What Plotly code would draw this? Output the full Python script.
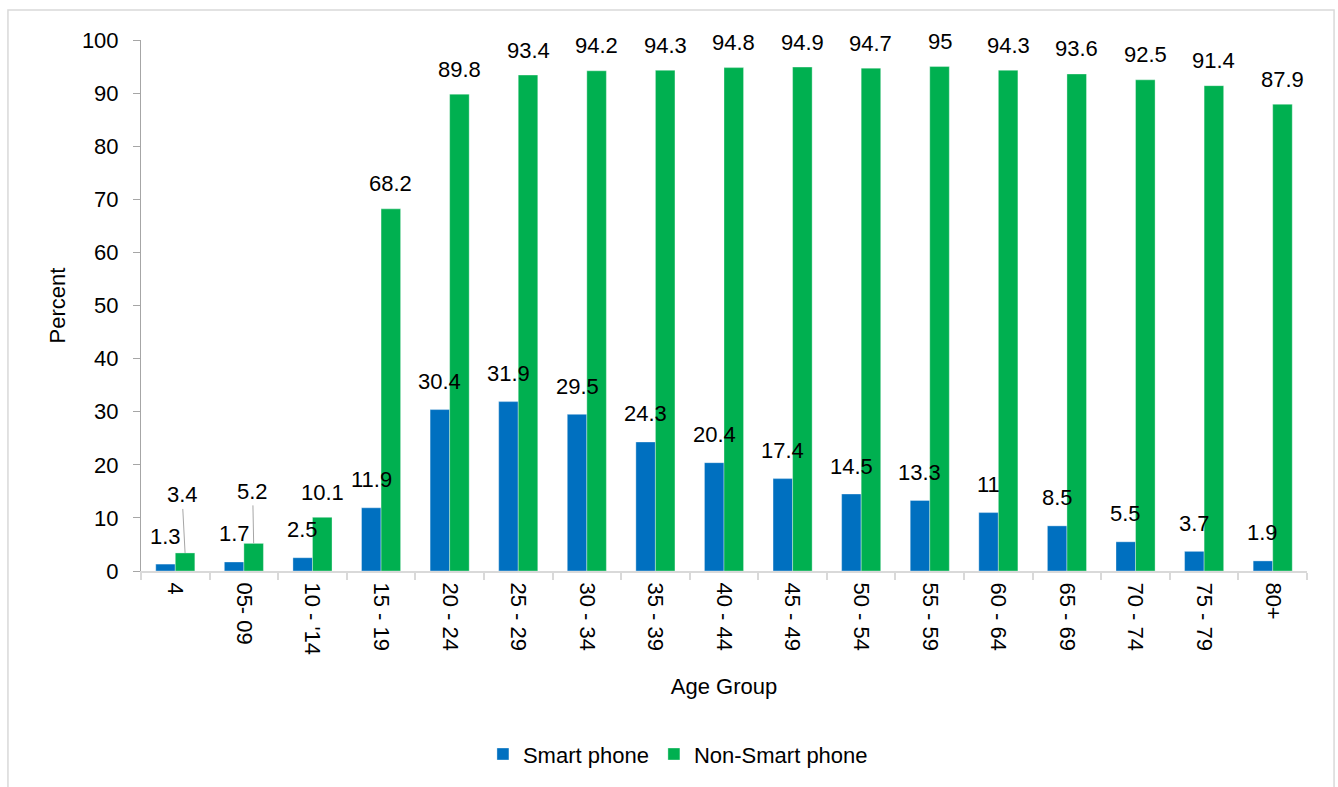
import plotly.graph_objects as go

# Age groups and share of each phone type (percent)
age_groups = ["4", "05- 09", "10 - '14", "15 - 19", "20 - 24", "25 - 29", "30 - 34",
              "35 - 39", "40 - 44", "45 - 49", "50 - 54", "55 - 59", "60 - 64",
              "65 - 69", "70 - 74", "75 - 79", "80+"]
smart_phone = [1.3, 1.7, 2.5, 11.9, 30.4, 31.9, 29.5, 24.3, 20.4, 17.4, 14.5,
               13.3, 11, 8.5, 5.5, 3.7, 1.9]
non_smart_phone = [3.4, 5.2, 10.1, 68.2, 89.8, 93.4, 94.2, 94.3, 94.8, 94.9,
                   94.7, 95, 94.3, 93.6, 92.5, 91.4, 87.9]
y_ticks = [0, 10, 20, 30, 40, 50, 60, 70, 80, 90, 100]

FONT = "Liberation Sans Narrow, Arial Narrow, Liberation Sans, Arial, sans-serif"
FS = 22
BLUE = "#0070C0"
GREEN = "#00B050"
BAR_W = 0.285

fig = go.Figure()
fig.add_trace(go.Bar(
    name="Smart phone", x=age_groups, y=smart_phone,
    width=BAR_W, offset=-BAR_W,
    marker=dict(color=BLUE, line=dict(color="rgba(255,255,255,0.35)", width=1)),
))
fig.add_trace(go.Bar(
    name="Non-Smart phone", x=age_groups, y=non_smart_phone,
    width=BAR_W, offset=0,
    marker=dict(color=GREEN, line=dict(color="rgba(255,255,255,0.35)", width=1)),
))

# Value labels above each bar; the two smallest green labels are lifted
# and tied back to their bars with a thin leader line.
leader = {0: (-3, -58), 1: (-1, -52)}
for i, (s, n) in enumerate(zip(smart_phone, non_smart_phone)):
    fig.add_annotation(x=i - BAR_W / 2, y=s, text=f"{s:g}", showarrow=False,
                       yanchor="middle", yshift=28,
                       font=dict(family=FONT, size=FS, color="#000000"))
    if i in leader:
        ax, ay = leader[i]
        fig.add_annotation(x=i + BAR_W / 2, y=n, text=f"{n:g}", showarrow=True,
                           arrowhead=0, arrowwidth=1, arrowcolor="#a6a6a6",
                           ax=ax, ay=ay, standoff=0,
                           font=dict(family=FONT, size=FS, color="#000000"))
    else:
        fig.add_annotation(x=i + BAR_W / 2, y=n, text=f"{n:g}", showarrow=False,
                           yanchor="middle", yshift=25,
                           font=dict(family=FONT, size=FS, color="#000000"))

# Light frame around the whole chart
fig.add_shape(type="rect", xref="paper", yref="paper",
              x0=-0.1141, x1=1.0232, y0=-0.45, y1=1.0565,
              line=dict(color="#d9d9d9", width=1.5), fillcolor="rgba(0,0,0,0)",
              layer="below")

fig.update_layout(
    width=1338, height=787,
    margin=dict(l=141, r=31, t=40, b=216, autoexpand=False),
    paper_bgcolor="white", plot_bgcolor="white",
    font=dict(family=FONT, size=FS, color="#000000"),
    showlegend=True,
    legend=dict(orientation="h", x=0.4605, xanchor="center", y=-0.345, yanchor="middle",
                font=dict(family=FONT, size=FS), itemwidth=30,
                traceorder="normal"),
    xaxis=dict(
        type="category", tickson="boundaries", tickangle=90,
        ticks="outside", ticklen=7, tickcolor="#d9d9d9", tickwidth=2,
        showline=True, linecolor="#d9d9d9", linewidth=2,
        showgrid=False, zeroline=False, ticklabelstandoff=5,
        title=dict(text="Age Group", font=dict(family=FONT, size=FS), standoff=24),
        tickfont=dict(family=FONT, size=FS),
        range=[-0.5, len(age_groups) - 0.5],
    ),
    yaxis=dict(
        range=[0, 100], tickvals=y_ticks, ticks="outside", ticklen=7,
        tickcolor="#a6a6a6", showline=True, linecolor="#a6a6a6", linewidth=1,
        showgrid=False, zeroline=False, ticklabelstandoff=10,
        title=dict(text="Percent", font=dict(family=FONT, size=FS), standoff=10),
        tickfont=dict(family=FONT, size=FS),
    ),
)

fig.write_html("out.html")
